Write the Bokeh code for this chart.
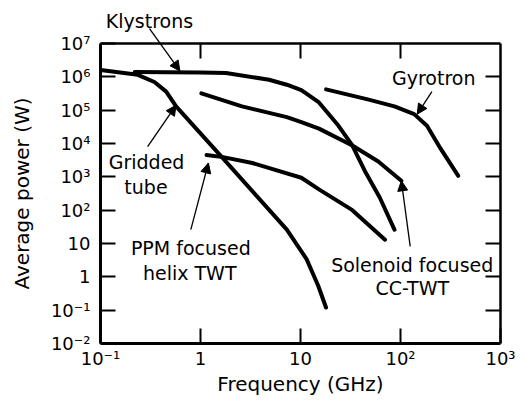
from bokeh.plotting import figure
from bokeh.models import LogAxis, FixedTicker, Arrow, NormalHead, Range1d, ColumnDataSource
from bokeh.core.properties import value
from bokeh.embed import file_html
from bokeh.resources import INLINE

# ---- data (frequency in GHz, average power in W) ----
gridded_f = [0.1, 0.236, 0.346, 0.454, 0.57, 1.68, 7.3, 11.5, 15, 18]
gridded_p = [1.6e6, 1.15e6, 7e5, 3.6e5, 1.3e5, 3.6e3, 26, 3.4, 0.55, 0.12]

klystron_f = [0.22, 1.0, 1.8, 4.85, 7.3, 10.2, 15.3, 24, 33, 44, 62, 87]
klystron_p = [1.4e6, 1.35e6, 1.3e6, 8.2e5, 5.8e5, 4.0e5, 1.7e5, 3.4e4, 8.7e3, 1.5e3, 240, 26]

solenoid_f = [1.02, 2.6, 7.3, 10.2, 15.3, 33, 60, 102]
solenoid_p = [3.2e5, 1.3e5, 6.2e4, 4.4e4, 2.8e4, 8.7e3, 2.9e3, 760]

ppm_f = [1.15, 1.68, 3.3, 10.2, 15.3, 33, 70]
ppm_p = [4.5e3, 3.9e3, 2.6e3, 940, 420, 100, 13]

gyro_f = [18, 47, 87, 137, 184, 251, 378]
gyro_p = [4.2e5, 2.1e5, 1.3e5, 7.6e4, 3.4e4, 7.1e3, 1.07e3]

x_ticks = [0.1, 1, 10, 100, 1000]
x_tick_labels = ["10\u207b\u00b9", "1", "10", "10\u00b2", "10\u00b3"]
y_ticks = [0.01, 0.1, 1, 10, 100, 1e3, 1e4, 1e5, 1e6, 1e7]
y_tick_labels = ["10\u207b\u00b2", "10\u207b\u00b9", "1", "10", "10\u00b2", "10\u00b3",
                 "10\u2074", "10\u2075", "10\u2076", "10\u2077"]

# annotation texts and arrows
label_texts = ["Klystrons", "Gridded", "tube", "PPM focused", "helix TWT",
               "Solenoid focused", "CC-TWT", "Gyrotron"]
label_x = [0.309, 0.289, 0.285, 0.8, 0.78, 131, 131, 215]
label_y = [4.8e7, 2.75e3, 5.1e2, 7.1, 1.31, 2.25, 0.47, 9.4e5]

arrow_x0 = [0.309, 0.296, 0.8, 206, 125]
arrow_y0 = [2.8e7, 8.1e3, 26, 3.6e5, 8.2]
arrow_x1 = [0.622, 0.569, 1.2, 147, 102]
arrow_y1 = [1.5e6, 1.4e5, 2.6e3, 7.6e4, 760]

FONT = "DejaVu Sans"

p = figure(width=516, height=398, x_axis_type="log", y_axis_type="log",
           x_range=Range1d(0.1, 1000), y_range=Range1d(0.01, 1e7),
           output_backend="svg", toolbar_location=None,
           min_border_left=100, min_border_right=16, min_border_top=43, min_border_bottom=50)
p.grid.visible = False
p.outline_line_color = None
p.background_fill_color = "white"
p.border_fill_color = "white"

overrides_x = {t: l for t, l in zip(x_ticks, x_tick_labels)}
overrides_y = {t: l for t, l in zip(y_ticks, y_tick_labels)}

def style_axis(ax, width):
    ax.axis_line_width = width
    ax.axis_line_color = "black"
    ax.major_tick_in = 15
    ax.major_tick_out = 0
    ax.major_tick_line_width = 2
    ax.major_tick_line_color = "black"
    ax.minor_tick_line_color = None
    ax.major_label_text_font = FONT
    ax.major_label_text_font_size = "18px"
    ax.major_label_text_color = "black"
    ax.axis_label_text_font = FONT
    ax.axis_label_text_font_size = "20px"
    ax.axis_label_text_font_style = "normal"
    ax.axis_label_text_color = "black"

xa = p.xaxis[0]
xa.ticker = FixedTicker(ticks=x_ticks)
xa.major_label_overrides = overrides_x
xa.axis_label = "Frequency (GHz)"
style_axis(xa, 3)
xa.major_label_standoff = 4
xa.axis_label_standoff = 0

ya = p.yaxis[0]
ya.ticker = FixedTicker(ticks=y_ticks)
ya.major_label_overrides = overrides_y
ya.axis_label = "Average power (W)"
style_axis(ya, 3)
ya.major_label_standoff = 10
ya.axis_label_standoff = 14

top = LogAxis(ticker=FixedTicker(ticks=x_ticks[1:-1]))
style_axis(top, 2.5)
top.major_label_overrides = {t: "" for t in x_ticks}
top.major_label_standoff = 0
p.add_layout(top, "above")

right = LogAxis(ticker=FixedTicker(ticks=y_ticks[1:-1]))
style_axis(right, 2.5)
right.major_label_overrides = {t: "" for t in y_ticks}
right.major_label_standoff = 0
p.add_layout(right, "right")

for fx, py in [(gridded_f, gridded_p), (klystron_f, klystron_p), (solenoid_f, solenoid_p),
               (ppm_f, ppm_p), (gyro_f, gyro_p)]:
    p.line(fx, py, line_width=4, line_color="black", line_cap="round", line_join="round")

arrows = ColumnDataSource(dict(x0=arrow_x0, y0=arrow_y0, x1=arrow_x1, y1=arrow_y1))
p.segment(x0="x0", y0="y0", x1="x1", y1="y1", source=arrows,
          line_width=1.3, line_color="black", level="overlay")
p.add_layout(Arrow(x_start="x0", y_start="y0", x_end="x1", y_end="y1", source=arrows,
                   line_alpha=0,
                   end=NormalHead(size=10, fill_color="black", line_color="black", line_width=1)))

labels = ColumnDataSource(dict(x=label_x, y=label_y, text=label_texts))
p.text(x="x", y="y", text="text", source=labels, text_font=value(FONT), text_font_size="19px",
       text_color="black", text_align="center", text_baseline="middle", level="overlay")

open("out.html", "w").write(file_html(p, INLINE))
